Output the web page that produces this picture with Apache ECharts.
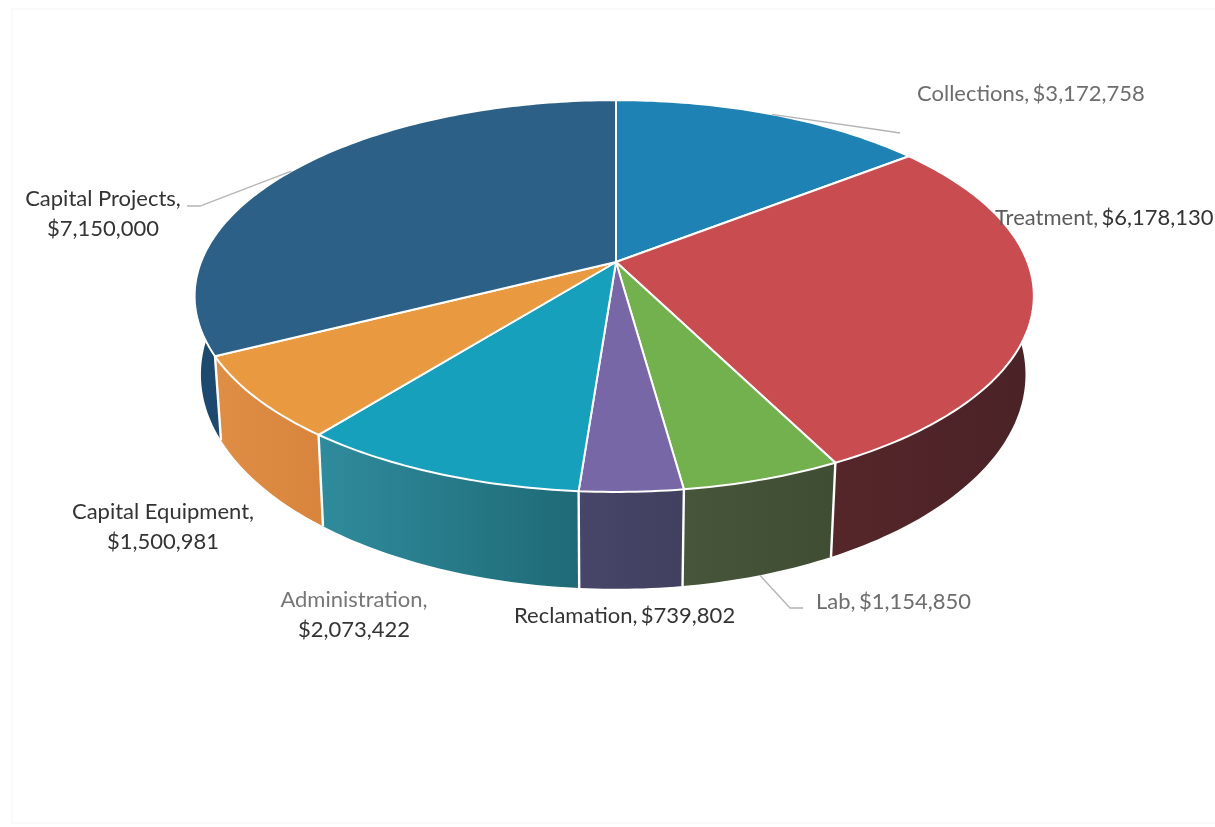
<!DOCTYPE html>
<html>
<head>
<meta charset="utf-8">
<style>html,body{margin:0;padding:0;background:#fff}#chart{width:1215px;height:827px}</style>
<script src="https://cdn.jsdelivr.net/npm/echarts@6/dist/echarts.min.js"></script>
</head>
<body>
<div id="chart"></div>
<script>
// Budget by department
const categories = ['Collections', 'Treatment', 'Lab', 'Reclamation', 'Administration', 'Capital Equipment', 'Capital Projects'];
const budget = [3172758, 6178130, 1154850, 739802, 2073422, 1500981, 7150000];

const faceColors = ['#1f82b5', '#c94c50', '#73b04e', '#7867a6', '#16a0bb', '#e9993f', '#2d6086'];
const wallColors = [
  ['#185f86', '#185f86'], ['#55262a', '#4a2226'], ['#47563a', '#3f4e33'], ['#474569', '#41405f'],
  ['#2f8b9c', '#1f6a76'], ['#df8e45', '#d8843d'], ['#1c4a6e', '#1f5177']
];

// Projective view of the disc: far rim shrinks, near rim grows
const apex = [616, 262], spanRight = 411.5, spanLeft = 415, spanY = 190, tilt = 0.1736;
const project = (deg) => {
  const a = deg * Math.PI / 180, x = Math.sin(a), y = Math.cos(a), w = 1 + tilt * y;
  return [apex[0] + (x > 0 ? spanRight : spanLeft) * x / w, apex[1] - spanY * y / w];
};
// The lower rim is the upper rim seen further from the eye
const drop = (p) => {
  const shrink = p[0] > apex[0] ? 0.98 : 0.985;
  return [apex[0] + (p[0] - apex[0]) * shrink, p[1] * 1.094 + 50.7];
};

const total = budget.reduce((s, v) => s + v, 0);
const spans = [];
budget.reduce((acc, v) => { spans.push([acc / total * 360, (acc + v) / total * 360]); return acc + v; }, 0);
const rim = ([from, to]) => {
  const pts = [];
  const n = Math.max(2, Math.ceil(to - from));
  for (let i = 0; i <= n; i++) pts.push(project(from + (to - from) * i / n));
  return pts;
};

// Label placement: text anchor, and the elbow of the leader line when the label has one
const labelLayout = [
  { x: 917, y: 94, align: 'left', wrap: false, name: '#6d6d6d', value: '#6d6d6d', elbow: [[880, 130], [900, 133]] },
  { x: 995, y: 218, align: 'left', wrap: false, name: '#5c5c5c', value: '#333333' },
  { x: 816, y: 602, align: 'left', wrap: false, name: '#6d6d6d', value: '#6d6d6d', elbow: [[790, 608], [803, 608]], lower: true },
  { x: 514, y: 616, align: 'left', wrap: false, name: '#333333', value: '#333333' },
  { x: 354, y: 615, align: 'center', wrap: true, name: '#767676', value: '#333333' },
  { x: 163, y: 527, align: 'center', wrap: true, name: '#333333', value: '#333333' },
  { x: 103, y: 214, align: 'center', wrap: true, name: '#333333', value: '#333333', elbow: [[200, 206], [187, 206]] }
];
const money = (v) => '$' + v.toLocaleString('en-US');
const labelFont = '22px Lato, Carlito, sans-serif';

function renderWall(params) {
  const i = params.dataIndex, top = rim(spans[i]), bottom = top.map(drop).reverse();
  const start = top[0], startLow = drop(start);
  return {
    type: 'group',
    children: [
      {
        type: 'polygon',
        shape: { points: top.concat(bottom) },
        style: {
          fill: { type: 'linear', x: 0, y: 0, x2: 1, y2: 0, colorStops: [
            { offset: 0, color: wallColors[i][0] }, { offset: 1, color: wallColors[i][1] }
          ] }
        }
      },
      {
        type: 'line',
        shape: { x1: start[0], y1: start[1], x2: startLow[0], y2: startLow[1] },
        style: { stroke: '#fff', lineWidth: 2.4 }
      }
    ]
  };
}

function renderFace(params) {
  const i = params.dataIndex;
  return {
    type: 'polygon',
    shape: { points: [apex].concat(rim(spans[i])) },
    style: { fill: faceColors[i], stroke: '#fff', lineWidth: 2, lineJoin: 'round' }
  };
}

function renderLabel(params, api) {
  const i = params.dataIndex, l = labelLayout[i];
  const children = [];
  if (l.elbow) {
    const mid = project((spans[i][0] + spans[i][1]) / 2);
    const from = l.lower ? drop(mid) : mid;
    children.push({
      type: 'polyline',
      shape: { points: [from].concat(l.elbow) },
      style: { fill: 'none', stroke: '#b4b4b4', lineWidth: 1.3 }
    });
  }
  children.push({
    type: 'text',
    style: {
      x: l.x, y: l.y, align: l.align, verticalAlign: 'middle',
      text: '{n|' + categories[i] + ',}' + (l.wrap ? '\n' : ' ') + '{v|' + money(api.value(0)) + '}',
      rich: {
        n: { fill: l.name, font: labelFont, lineHeight: 30 },
        v: { fill: l.value, font: labelFont, lineHeight: 30 }
      }
    }
  });
  return { type: 'group', children };
}

const chart = echarts.init(document.getElementById('chart'), null, { renderer: 'canvas' });
chart.setOption({
  animation: false,
  backgroundColor: '#ffffff',
  graphic: [{
    type: 'rect', silent: true, z: 0,
    shape: { x: 12, y: 9, width: 1210, height: 814 },
    style: { fill: 'none', stroke: '#fafafa', lineWidth: 2 }
  }],
  series: [
    { type: 'custom', name: 'Walls', coordinateSystem: 'none', z: 1, renderItem: renderWall, data: budget, silent: true },
    { type: 'custom', name: 'Faces', coordinateSystem: 'none', z: 2, renderItem: renderFace, data: budget, silent: true },
    { type: 'custom', name: 'Labels', coordinateSystem: 'none', z: 3, renderItem: renderLabel, data: budget, silent: true }
  ]
});
</script>
</body>
</html>
